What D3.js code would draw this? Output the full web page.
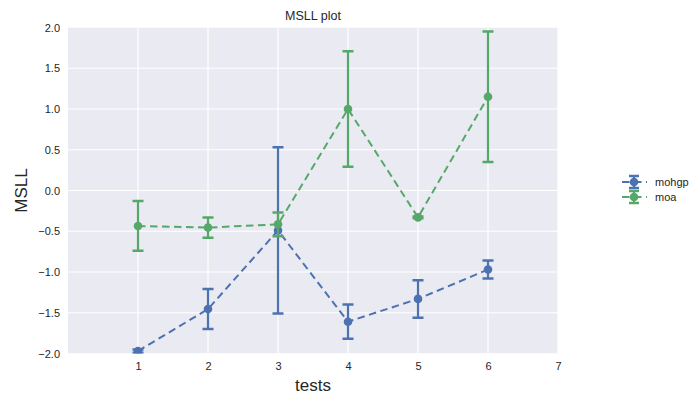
<!DOCTYPE html>
<html>
<head>
<meta charset="utf-8">
<script src="https://cdn.jsdelivr.net/npm/d3@7/dist/d3.min.js"></script>
<style>
  body { margin: 0; background: #fff; }
  svg { font-family: "Liberation Sans", Arial, sans-serif; }
</style>
</head>
<body>
<svg id="chart" width="691" height="400"></svg>
<script>
// Test indices
const tests = [1, 2, 3, 4, 5, 6];
// MSLL means and error half-widths per method
const mohgpMean = [-1.97, -1.455, -0.49, -1.61, -1.33, -0.97];
const mohgpErr  = [0.02, 0.245, 1.02, 0.21, 0.23, 0.11];
const moaMean   = [-0.435, -0.455, -0.415, 1.0, -0.33, 1.15];
const moaErr    = [0.305, 0.125, 0.145, 0.71, 0.01, 0.8];
const xTicks = [1, 2, 3, 4, 5, 6, 7];
const yTicks = [-2.0, -1.5, -1.0, -0.5, 0.0, 0.5, 1.0, 1.5, 2.0];

const series = [
  { name: "mohgp", mean: mohgpMean, err: mohgpErr, color: "#4C72B0" },
  { name: "moa",   mean: moaMean,   err: moaErr,   color: "#55A868" }
];

const svg = d3.select("#chart");
const plot = { left: 68, right: 558, top: 27.5, bottom: 353.5 };
const textColor = "#262626";

const x = d3.scaleLinear().domain([0, 7]).range([plot.left, plot.right]);
const y = d3.scaleLinear().domain([-2, 2]).range([plot.bottom, plot.top]);

// Axes background
svg.append("rect")
  .attr("x", plot.left).attr("y", plot.top)
  .attr("width", plot.right - plot.left).attr("height", plot.bottom - plot.top)
  .attr("fill", "#EAEAF2");

svg.append("defs").append("clipPath").attr("id", "clip")
  .append("rect")
  .attr("x", plot.left).attr("y", plot.top)
  .attr("width", plot.right - plot.left).attr("height", plot.bottom - plot.top);

// Grid
const grid = svg.append("g").attr("clip-path", "url(#clip)");
grid.selectAll(".vg").data(xTicks).join("line")
  .attr("x1", d => x(d)).attr("x2", d => x(d))
  .attr("y1", plot.top).attr("y2", plot.bottom)
  .attr("stroke", "#fff").attr("stroke-width", 1.2);
grid.selectAll(".hg").data(yTicks).join("line")
  .attr("x1", plot.left).attr("x2", plot.right)
  .attr("y1", d => y(d)).attr("y2", d => y(d))
  .attr("stroke", "#fff").attr("stroke-width", 1.2);

// Tick labels via axes (no domain or tick lines)
const xAxis = svg.append("g")
  .attr("transform", `translate(0,${plot.bottom})`)
  .call(d3.axisBottom(x).tickValues(xTicks).tickFormat(d3.format("d")).tickSize(0).tickPadding(9));
const yAxis = svg.append("g")
  .attr("transform", `translate(${plot.left},0)`)
  .call(d3.axisLeft(y).tickValues(yTicks).tickFormat(d => d3.format(".1f")(d).replace("-", "\u2212")).tickSize(0).tickPadding(8));
[xAxis, yAxis].forEach(a => {
  a.select(".domain").remove();
  a.selectAll("text").attr("font-size", 11).attr("fill", textColor)
    .attr("font-family", "'Liberation Sans', Arial, sans-serif");
});

// Series: dashed line, error bars with caps, circle markers
const layer = svg.append("g").attr("clip-path", "url(#clip)");
series.forEach(s => {
  const pts = tests.map((t, i) => ({ t, m: s.mean[i], e: s.err[i] }));
  const g = layer.append("g");
  g.append("path")
    .datum(pts)
    .attr("d", d3.line().x(d => x(d.t)).y(d => y(d.m)))
    .attr("fill", "none").attr("stroke", s.color)
    .attr("stroke-width", 2).attr("stroke-dasharray", "7.5,4.5");
  g.selectAll(".eb").data(pts).join("line")
    .attr("x1", d => x(d.t)).attr("x2", d => x(d.t))
    .attr("y1", d => y(d.m - d.e)).attr("y2", d => y(d.m + d.e))
    .attr("stroke", s.color).attr("stroke-width", 2.2);
  ["lo", "hi"].forEach(k => {
    g.selectAll(".cap" + k).data(pts).join("line")
      .attr("x1", d => x(d.t) - 5.5).attr("x2", d => x(d.t) + 5.5)
      .attr("y1", d => y(k === "lo" ? d.m - d.e : d.m + d.e))
      .attr("y2", d => y(k === "lo" ? d.m - d.e : d.m + d.e))
      .attr("stroke", s.color).attr("stroke-width", 2.5);
  });
  g.selectAll("circle").data(pts).join("circle")
    .attr("cx", d => x(d.t)).attr("cy", d => y(d.m)).attr("r", 4.3)
    .attr("fill", s.color);
});

// Title and axis labels
svg.append("text").attr("x", (plot.left + plot.right) / 2).attr("y", 20)
  .attr("text-anchor", "middle").attr("font-size", 12.5).attr("fill", textColor)
  .text("MSLL plot");
svg.append("text").attr("x", (plot.left + plot.right) / 2).attr("y", 391)
  .attr("text-anchor", "middle").attr("font-size", 17).attr("fill", textColor)
  .text("tests");
svg.append("text")
  .attr("transform", `translate(27,${(plot.top + plot.bottom) / 2}) rotate(-90)`)
  .attr("text-anchor", "middle").attr("font-size", 17).attr("fill", textColor)
  .text("MSLL");

// Legend
const legend = svg.append("g");
series.forEach((s, i) => {
  const ly = 182 + i * 15;
  const lg = legend.append("g");
  lg.append("line").attr("x1", 622).attr("x2", 647).attr("y1", ly).attr("y2", ly)
    .attr("stroke", s.color).attr("stroke-width", 2).attr("stroke-dasharray", "7.5,4.5");
  lg.append("line").attr("x1", 634).attr("x2", 634).attr("y1", ly - 6).attr("y2", ly + 6)
    .attr("stroke", s.color).attr("stroke-width", 2.2);
  [ly - 6, ly + 6].forEach(cy => lg.append("line")
    .attr("x1", 629).attr("x2", 639).attr("y1", cy).attr("y2", cy)
    .attr("stroke", s.color).attr("stroke-width", 2.5));
  lg.append("circle").attr("cx", 634).attr("cy", ly).attr("r", 4.3).attr("fill", s.color);
  lg.append("text").attr("x", 655).attr("y", ly + 4)
    .attr("font-size", 11).attr("fill", textColor).text(s.name);
});
</script>
</body>
</html>
